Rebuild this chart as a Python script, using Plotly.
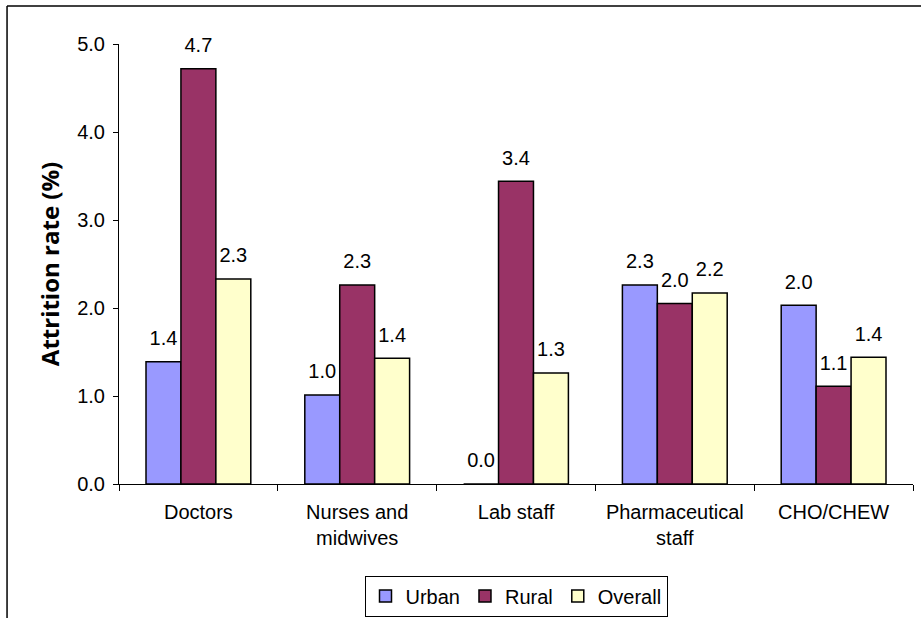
import plotly.graph_objects as go

categories = ["Doctors", "Nurses and<br>midwives", "Lab staff", "Pharmaceutical<br>staff", "CHO/CHEW"]
urban = [1.39, 1.01, 0.0, 2.26, 2.03]
rural = [4.72, 2.26, 3.44, 2.05, 1.11]
overall = [2.33, 1.43, 1.26, 2.17, 1.44]
series_names = ["Urban", "Rural", "Overall"]
colors = ["#9999FF", "#993366", "#FFFFCC"]

FONT = "Liberation Sans, Arial, sans-serif"

fig = go.Figure()
for name, vals, col in zip(series_names, [urban, rural, overall], colors):
    fig.add_trace(go.Bar(
        x=categories, y=vals, name=name,
        offsetgroup=name,
        marker=dict(color=col, line=dict(color="black", width=1.5)),
    ))
for name, vals in zip(series_names, [urban, rural, overall]):
    fig.add_trace(go.Scatter(
        x=categories, y=vals, name=name + " labels",
        offsetgroup=name,
        mode="markers+text", showlegend=False, hoverinfo="skip",
        marker=dict(size=17, opacity=0),
        texttemplate="%{y:.1f}", textposition="top center",
        textfont=dict(family=FONT, size=20, color="black"),
        cliponaxis=False,
    ))

fig.update_layout(
    width=921, height=618,
    margin=dict(l=119, r=8, t=44, b=134, autoexpand=False),
    paper_bgcolor="white", plot_bgcolor="white",
    barmode="group", bargap=0.34, bargroupgap=0,
    scattermode="group", scattergap=0.34,
    font=dict(family=FONT, size=20, color="black"),
    showlegend=True,
    legend=dict(
        orientation="h", x=0.5, xanchor="center", y=-0.208, yanchor="top",
        bordercolor="black", borderwidth=1, bgcolor="white",
        font=dict(family=FONT, size=20, color="black"),
        itemwidth=30, tracegroupgap=0,
    ),
    xaxis=dict(
        showline=True, linecolor="black", linewidth=1, automargin=False,
        ticks="outside", tickson="boundaries", ticklen=6, tickcolor="black",
        ticklabelstandoff=10,
        showgrid=False, tickfont=dict(family=FONT, size=20),
    ),
    yaxis=dict(
        range=[0, 5], dtick=1, tickformat=".1f", automargin=False,
        showline=True, linecolor="black", linewidth=1,
        ticks="outside", ticklen=5, tickcolor="black", ticklabelstandoff=4,
        showgrid=False, zeroline=False, tickfont=dict(family=FONT, size=20),
        title=dict(text="<b>Attrition rate (%)</b>",
                   font=dict(family="Open Sans, sans-serif", size=24), standoff=10),
    ),
    shapes=[
        dict(type="line", xref="paper", yref="paper", x0=-0.141, x1=1.02, y0=1.0864, y1=1.0864,
             line=dict(color="black", width=1.5)),
        dict(type="line", xref="paper", yref="paper", x0=-0.141, x1=-0.141, y0=1.0864, y1=-0.35,
             line=dict(color="black", width=1.5)),
    ],
)

fig.write_html("out.html", config={"displayModeBar": False},
               post_script="document.body.style.margin='0';document.body.style.overflow='hidden';")
